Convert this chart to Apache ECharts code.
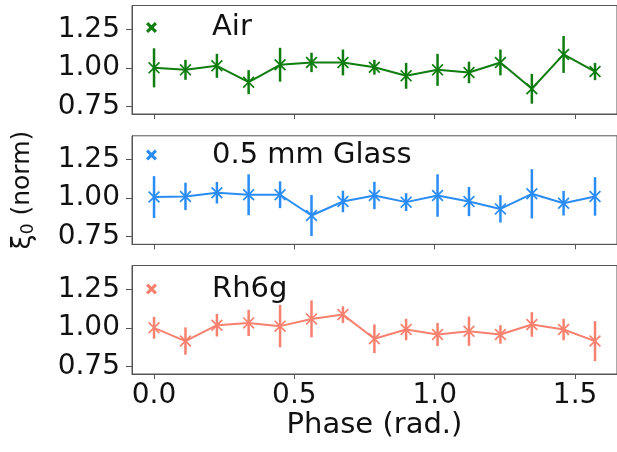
<!DOCTYPE html>
<html>
<head>
<meta charset="utf-8">
<script src="https://cdn.jsdelivr.net/npm/echarts@6/dist/echarts.min.js"></script>
<style>
html,body{margin:0;padding:0;background:#fff;}
#chart{width:617px;height:452px;}
</style>
</head>
<body>
<div id="chart"></div>
<script>
// ---- data ----
const phase = [0.000, 0.112, 0.224, 0.337, 0.449, 0.561, 0.673, 0.785, 0.898, 1.010, 1.122, 1.234, 1.346, 1.459, 1.571];
const seriesNames = ['Air', '0.5 mm Glass', 'Rh6g'];
const airVal   = [1.000, 0.987, 1.013, 0.907, 1.020, 1.035, 1.035, 1.004, 0.948, 0.987, 0.970, 1.035, 0.864, 1.087, 0.976];
const airErr   = [0.127, 0.065, 0.078, 0.078, 0.110, 0.063, 0.084, 0.048, 0.084, 0.104, 0.070, 0.084, 0.097, 0.120, 0.056];
const glassVal = [1.007, 1.011, 1.035, 1.022, 1.022, 0.887, 0.978, 1.017, 0.974, 1.017, 0.978, 0.930, 1.028, 0.967, 1.011];
const glassErr = [0.136, 0.089, 0.070, 0.133, 0.087, 0.133, 0.070, 0.089, 0.058, 0.138, 0.095, 0.089, 0.160, 0.080, 0.125];
const rhVal    = [1.000, 0.914, 1.017, 1.032, 1.011, 1.058, 1.086, 0.929, 0.989, 0.957, 0.978, 0.957, 1.022, 0.989, 0.914];
const rhErr    = [0.071, 0.089, 0.073, 0.085, 0.138, 0.120, 0.054, 0.093, 0.070, 0.075, 0.095, 0.060, 0.080, 0.070, 0.130];
const xTicks = [0.0, 0.5, 1.0, 1.5];
const yTicks = [0.75, 1.00, 1.25];
const xLabel = 'Phase (rad.)';

// ---- style ----
const colors = ['#0f7d0f', '#2a8cf5', '#f8806f'];
const vals = [airVal, glassVal, rhVal];
const errs = [airErr, glassErr, rhErr];
const gridTops = [5.5, 135.8, 265.5];
const gridH = 108.5;
const legendTops = [13, 140.5, 274.5];
const FONT = '"DejaVu Sans", sans-serif';
const axisCol = '#555';
const xMarker = 'path://M1,0 L5,4 L9,0 L10,1 L6,5 L10,9 L9,10 L5,6 L1,10 L0,9 L4,5 L0,1 Z';
const xIcon = 'path://M2,0 L5,3 L8,0 L10,2 L7,5 L10,8 L8,10 L5,7 L2,10 L0,8 L3,5 L0,2 Z';

const grids = [], xAxes = [], yAxes = [], series = [], legends = [];
for (let k = 0; k < 3; k++) {
  grids.push({left: 132, width: 495.4, top: gridTops[k], height: gridH,
    show: true, borderColor: axisCol, borderWidth: 1, backgroundColor: 'transparent'});
  xAxes.push({type: 'value', gridIndex: k, min: -0.0785, max: 1.6493,
    axisLine: {show: true, onZero: false, lineStyle: {color: axisCol, width: 1}},
    axisTick: {show: true, length: 5, customValues: xTicks, lineStyle: {color: axisCol}},
    axisLabel: {show: k === 2, customValues: xTicks, margin: 8, fontSize: 28, fontFamily: FONT, color: '#111',
      formatter: v => v.toFixed(1)},
    splitLine: {show: false},
    name: k === 2 ? xLabel : '', nameLocation: 'middle', nameGap: 32,
    nameTextStyle: {fontSize: 29, fontFamily: FONT, color: '#111'}
  });
  yAxes.push({type: 'value', gridIndex: k, min: 0.70, max: 1.405,
    axisLine: {show: true, onZero: false, lineStyle: {color: axisCol, width: 1}},
    axisTick: {show: true, length: 6, customValues: yTicks, lineStyle: {color: axisCol}},
    axisLabel: {customValues: yTicks, margin: 12, fontSize: 28, fontFamily: FONT, color: '#111',
      formatter: v => v.toFixed(2)},
    splitLine: {show: false},
    name: k === 1 ? '{xi|ξ}{sub|0}{n| (norm)}' : '',
    nameLocation: 'middle', nameGap: 95,
    nameTextStyle: {fontFamily: FONT, color: '#111',
      rich: {
        xi: {fontSize: 27, fontFamily: FONT, color: '#111'},
        sub: {fontSize: 17, fontFamily: FONT, color: '#111', padding: [12, 0, 0, 0]},
        n: {fontSize: 25, fontFamily: FONT, color: '#111'}
      }}
  });
  const col = colors[k];
  series.push({
    type: 'custom', name: seriesNames[k] + ' err', xAxisIndex: k, yAxisIndex: k,
    data: phase.map((p, i) => [p, vals[k][i], errs[k][i]]),
    encode: {x: 0, y: 1},
    renderItem: function (params, api) {
      const x = api.value(0), y = api.value(1), e = api.value(2);
      const p1 = api.coord([x, y - e]);
      const p2 = api.coord([x, y + e]);
      return {type: 'line', shape: {x1: p1[0], y1: p1[1], x2: p2[0], y2: p2[1]},
        style: {stroke: col, lineWidth: 2.5}};
    },
    z: 2, silent: true
  });
  series.push({
    type: 'line', name: seriesNames[k], xAxisIndex: k, yAxisIndex: k,
    data: phase.map((p, i) => [p, vals[k][i]]),
    symbol: xMarker, symbolSize: 12, showSymbol: true,
    lineStyle: {color: col, width: 2},
    itemStyle: {color: col},
    z: 3, silent: true
  });
  legends.push({
    data: [{name: seriesNames[k], icon: xIcon}],
    left: 146, top: legendTops[k], padding: 0,
    itemWidth: 11, itemHeight: 11,
    textStyle: {fontSize: 29, fontFamily: FONT, color: '#111', padding: [0, 0, 0, 50]},
    selectedMode: false
  });
}

const chart = echarts.init(document.getElementById('chart'), null, {renderer: 'canvas'});
chart.setOption({
  animation: false,
  backgroundColor: '#fff',
  grid: grids, xAxis: xAxes, yAxis: yAxes, legend: legends, series: series
});
</script>
</body>
</html>
